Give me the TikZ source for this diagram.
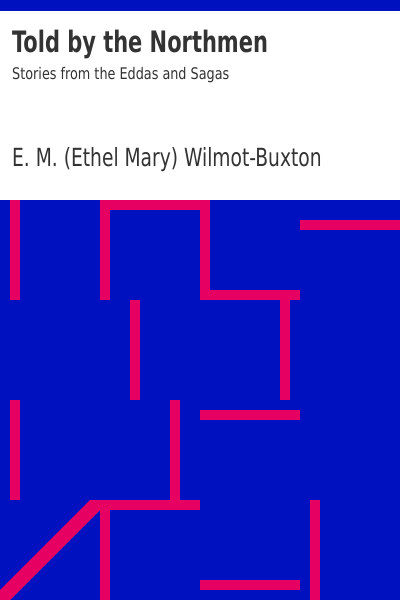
\documentclass[tikz,border=0pt]{standalone}
\usepackage{fontspec}
\setmainfont{DejaVu Sans Condensed}
\newfontfamily\titlefont{DejaVu Sans Condensed}[FakeStretch=0.79]
\newfontfamily\subtitlefont{DejaVu Sans Condensed}[FakeStretch=0.89]
\newfontfamily\authorfont{DejaVu Sans Condensed}[FakeStretch=0.83]
\definecolor{coverblue}{HTML}{0012C0}
\definecolor{coverpink}{HTML}{E60062}
\definecolor{covertext}{HTML}{333333}
\begin{document}
\begin{tikzpicture}[x=1pt, y=-1pt, bar/.style={fill=coverpink}, every node/.style={anchor=base west, inner sep=0pt, text=covertext}]
            \useasboundingbox (0,0) rectangle (400,600);
            \fill[white] (0,0) rectangle (400,600);
            \fill[coverblue] (0,0) rectangle (400,11); % top bar
            \fill[coverblue] (0,200) rectangle (400,600);

            \node[font=\titlefont\fontsize{29.5}{32}\selectfont\bfseries] (title) at (12,52.7) {Told by the Northmen};
            \node[font=\subtitlefont\fontsize{16}{19}\selectfont] (subtitle) at (12,79) {Stories from the Eddas and Sagas};
            \node[font=\authorfont\fontsize{25}{28}\selectfont] (author) at (12,166.7) {E. M. (Ethel Mary) Wilmot-Buxton};

            \fill[bar] (10,200) rectangle (20,300);
            \fill[bar] (100,200) rectangle (110,300);
            \fill[bar] (100,200) rectangle (210,210);
            \fill[bar] (200,200) rectangle (210,300);
            \fill[bar] (200,290) rectangle (300,300);
            \fill[bar] (300,220) rectangle (400,230);
            \fill[bar] (130,300) rectangle (140,400);
            \fill[bar] (280,300) rectangle (290,400);
            \fill[bar] (10,400) rectangle (20,500);
            \fill[bar] (170,400) rectangle (180,500);
            \fill[bar] (200,410) rectangle (300,420);
            \fill[bar] (90,500) rectangle (200,510);
            \fill[bar] (100,510) rectangle (110,600);
            \fill[bar] (90,500) -- (100,510) -- (10,600) -- (0,600) -- (0,590) -- cycle; % diagonal
            \fill[bar] (310,500) rectangle (320,600);
            \fill[bar] (200,580) rectangle (300,590);
        \end{tikzpicture}
\end{document}
